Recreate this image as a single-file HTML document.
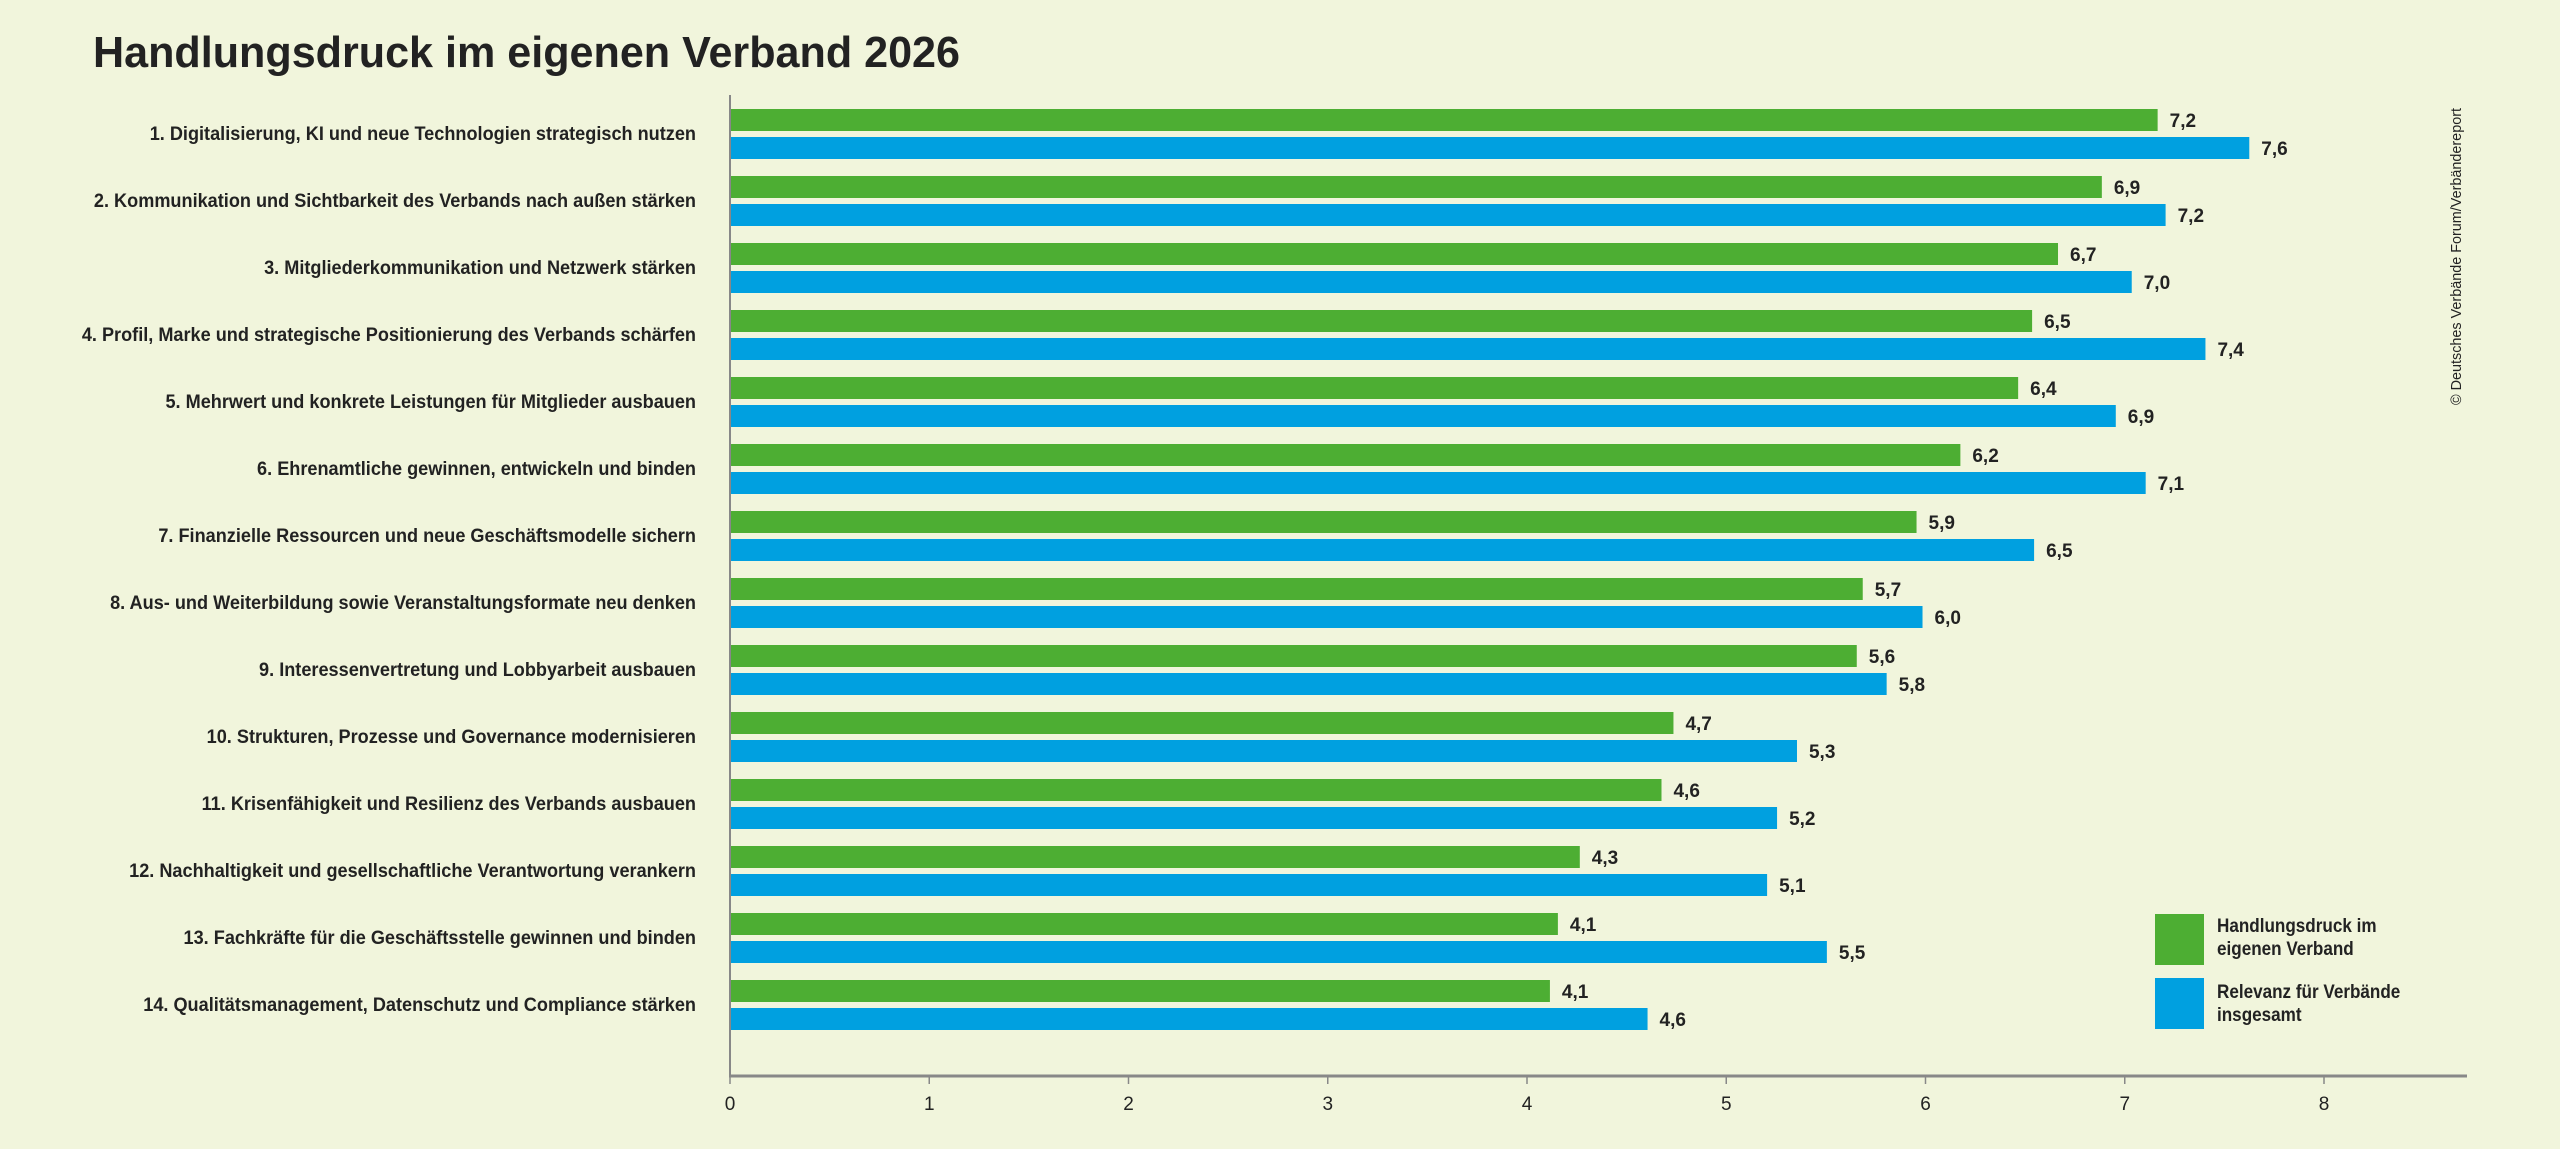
<!DOCTYPE html>
<html><head><meta charset="utf-8"><style>
html,body{margin:0;padding:0;background:#f1f5dc;}
svg{display:block;}
text{font-family:"Liberation Sans",sans-serif;fill:#222;}
</style></head><body>
<svg width="2560" height="1149" viewBox="0 0 2560 1149" xmlns="http://www.w3.org/2000/svg">
<rect width="2560" height="1149" fill="#f1f5dc"/>
<text x="93" y="67" font-weight="bold" font-size="44" textLength="867" lengthAdjust="spacingAndGlyphs">Handlungsdruck im eigenen Verband 2026</text>
<line x1="730" y1="95" x2="730" y2="1077" stroke="#888" stroke-width="2"/>
<line x1="729" y1="1076" x2="2467" y2="1076" stroke="#888" stroke-width="3"/>
<g id="ticks" stroke="#888" stroke-width="1.5"></g>
<g id="tl" font-size="19" fill="#666" text-anchor="middle"></g>
<g id="bars"></g>
<rect x="2155" y="914" width="49" height="51" fill="#4dae33"/>
<rect x="2155" y="978" width="49" height="51" fill="#00a0e0"/>
<g transform="translate(2217,0) scale(0.9,1)" font-size="19" font-weight="bold">
<text x="0" y="932">Handlungsdruck im</text>
<text x="0" y="955">eigenen Verband</text>
<text x="0" y="998">Relevanz für Verbände</text>
<text x="0" y="1021">insgesamt</text>
</g>
<text transform="translate(2461,405) rotate(-90)" font-size="15" fill="#333" textLength="297" lengthAdjust="spacingAndGlyphs">© Deutsches Verbände Forum/Verbändereport</text>
</svg>
<script>
const ns="http://www.w3.org/2000/svg";
const labels=["1. Digitalisierung, KI und neue Technologien strategisch nutzen","2. Kommunikation und Sichtbarkeit des Verbands nach außen stärken","3. Mitgliederkommunikation und Netzwerk stärken","4. Profil, Marke und strategische Positionierung des Verbands schärfen","5. Mehrwert und konkrete Leistungen für Mitglieder ausbauen","6. Ehrenamtliche gewinnen, entwickeln und binden","7. Finanzielle Ressourcen und neue Geschäftsmodelle sichern","8. Aus- und Weiterbildung sowie Veranstaltungsformate neu denken","9. Interessenvertretung und Lobbyarbeit ausbauen","10. Strukturen, Prozesse und Governance modernisieren","11. Krisenfähigkeit und Resilienz des Verbands ausbauen","12. Nachhaltigkeit und gesellschaftliche Verantwortung verankern","13. Fachkräfte für die Geschäftsstelle gewinnen und binden","14. Qualitätsmanagement, Datenschutz und Compliance stärken"];
const g=[7.2,6.9,6.7,6.5,6.4,6.2,5.9,5.7,5.6,4.7,4.6,4.3,4.1,4.1];
const b=[7.6,7.2,7.0,7.4,6.9,7.1,6.5,6.0,5.8,5.3,5.2,5.1,5.5,4.6];
const gw=[7.16,6.88,6.66,6.53,6.46,6.17,5.95,5.68,5.65,4.73,4.67,4.26,4.15,4.11];
const bw=[7.62,7.2,7.03,7.4,6.95,7.1,6.54,5.98,5.8,5.35,5.25,5.2,5.5,4.6];
const x0=730,u=199.25;
function el(t,a,p,txt){const e=document.createElementNS(ns,t);for(const k in a)e.setAttribute(k,a[k]);if(txt!==undefined)e.textContent=txt;(typeof p==="string"?document.getElementById(p):p).appendChild(e);return e;}
for(let i=0;i<=8;i++){const x=x0+i*u;el("line",{x1:x,y1:1076,x2:x,y2:1084},"ticks");el("text",{x:x,y:1110},"tl",String(i));}
const bars=document.getElementById("bars");
for(let i=0;i<14;i++){
 const y=109+i*67;
 el("rect",{x:731,y:y,width:gw[i]*u,height:22,fill:"#4dae33"},bars);
 el("rect",{x:731,y:y+28,width:bw[i]*u,height:22,fill:"#00a0e0"},bars);
 el("text",{x:731+gw[i]*u+12,y:y+18,"font-size":"19","font-weight":"bold"},bars,g[i].toFixed(1).replace(".",","));
 el("text",{x:731+bw[i]*u+12,y:y+46,"font-size":"19","font-weight":"bold"},bars,b[i].toFixed(1).replace(".",","));
 el("text",{x:0,y:0,"font-size":"19.5","font-weight":"bold","text-anchor":"end",transform:`translate(696,${y+31}) scale(0.93,1)`},bars,labels[i]);
}
</script>
</body></html>
